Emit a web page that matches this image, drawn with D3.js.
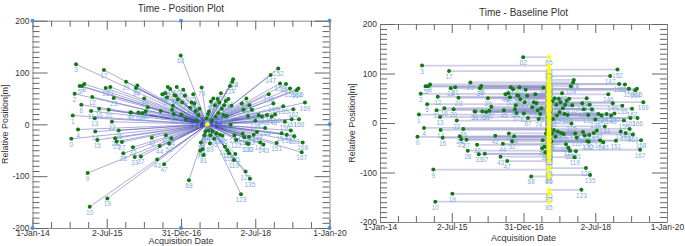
<!DOCTYPE html>
<html>
<head>
<meta charset="utf-8">
<script src="https://cdn.jsdelivr.net/npm/d3@7"></script>
<style>
  body { margin: 0; background: #fff; }
  svg { display: block; font-family: "Liberation Sans", Arial, sans-serif; }
  .ttl { font-size: 10px; fill: #333; }
  .axt { font-size: 9px; fill: #333; }
  .tick text { font-size: 8.5px; fill: #333; }
  .lbl { font-size: 6.5px; fill: #86acdf; }
</style>
</head>
<body>
<div id="chart"></div>
<script>
// acquisition day offsets (days after 1-Jan-14) and relative positions [m]
var acqDays = [286, 297, 311, 321, 336, 348, 360, 365, 382, 407,
    422, 432, 441, 459, 463, 478, 491, 527, 540, 552,
    562, 574, 586, 599, 609, 621, 636, 660, 670, 690,
    722, 727, 741, 754, 763, 773, 781, 800, 810, 824,
    835, 850, 880, 920, 938, 946, 958, 971, 978, 984,
    992, 998, 1008, 1016, 1024, 1030, 1036, 1042, 1048, 1056,
    1064, 1072, 1093, 1098, 1104, 1112, 1124, 1130, 1154, 1162,
    1174, 1186, 1194, 1204, 1211, 1223, 1232, 1238, 1242, 1248,
    1254, 1262, 1268, 1275, 1284, 1290, 1295, 1298, 1302, 1309,
    1312, 1316, 1322, 1328, 1334, 1340, 1346, 1351, 1358, 1366,
    1371, 1378, 1383, 1390, 1396, 1402, 1408, 1414, 1420, 1426,
    1432, 1438, 1445, 1450, 1457, 1462, 1468, 1474, 1480, 1486,
    1490, 1496, 1502, 1538, 1544, 1550, 1556, 1562, 1572, 1578,
    1584, 1590, 1594, 1598, 1600, 1604, 1618, 1632, 1644, 1656,
    1668, 1680, 1692, 1704, 1716, 1730, 1743, 1757, 1765, 1777,
    1790, 1801, 1813, 1826, 1838, 1850, 1862, 1870, 1876, 1900,
    1906, 1912, 1924, 1930, 1949, 1961, 1966, 1986, 1993, 2010];

var relPos = [-28, 17, 59, 116, -10, 74, 38, 74, 78, -94,
    -159, 26, 53, 12, -14, -30, 30, 105, 70, -143,
    28, 72, 5, 51, -27, -33, -12, -34, -56, 82,
    23, 23, -44, -63, 70, 75, 23, -62, 22, 50,
    25, 33, -26, -68, -42, 26, 58, -77, 60, -21,
    52, 72, -37, 68, -27, 28, 36, 20, 56, 55,
    72, 48, 133, 19, 42, 67, 55, 10, -108, 32,
    42, 58, 40, 26, 8, 18, 30, -51, -35, 71,
    -48, -59, -21, -14, 12, 0, 20, -12, 25, -37,
    -21, 44, 8, -14, 50, -28, 37, 15, -17, 49,
    22, 42, -20, 60, 30, -22, 18, 37, -43, 45,
    16, -50, 49, -56, 74, -1, 36, 82, 87, -69,
    -21, -57, -30, -135, 40, -18, 28, -25, -91, 50,
    -37, 16, -38, -24, 37, -105, 28, -20, 7, -15,
    18, -35, 15, -39, -7, 18, 58, 95, 15, 40,
    19, -36, 108, 79, -17, 35, 5, 78, -20, 69,
    -12, 10, 29, -23, 66, 69, 10, -54, -35, 42];

var masterIndex = 85;
var xTickLabels = ["1-Jan-14", "2-Jul-15", "31-Dec-16", "2-Jul-18", "1-Jan-20"];
var yTicks = [-200, -100, 0, 100, 200];

var W = 685, H = 246;
var t0 = new Date(Date.UTC(2014, 0, 1)), t1 = new Date(Date.UTC(2020, 0, 1));

var pts = acqDays.map(function (d, i) {
    return { i: i, date: d3.utcDay.offset(t0, d), v: relPos[i] };
});
var master = pts[masterIndex];
var others = pts.filter(function (d) { return d.i !== masterIndex; });

var svg = d3.select("#chart").append("svg")
    .attr("width", W).attr("height", H);

function drawFrame(g, x, y, p, dots) {
    // 16 equal time steps between the end dates, every 4th labelled
    var xt = d3.range(17).map(function (k) {
        return new Date(+t0 + (t1 - t0) * k / 16);
    });
    var yt = d3.range(-200, 201, 10);

    var bottom = g.append("g").attr("transform", "translate(0," + p.y1 + ")")
        .call(d3.axisBottom(x).tickValues(xt).tickSizeInner(-6).tickSizeOuter(0).tickPadding(3)
            .tickFormat(function (d, k) { return k % 4 === 0 ? xTickLabels[k / 4] : ""; }));
    var top = g.append("g").attr("transform", "translate(0," + p.y0 + ")")
        .call(d3.axisTop(x).tickValues(xt).tickSizeInner(-6).tickSizeOuter(0).tickFormat(""));
    var left = g.append("g").attr("transform", "translate(" + p.x0 + ",0)")
        .call(d3.axisLeft(y).tickValues(yt).tickSizeInner(-7).tickSizeOuter(0).tickPadding(3)
            .tickFormat(function (d) { return yTicks.indexOf(d) >= 0 ? d : ""; }));
    var right = g.append("g").attr("transform", "translate(" + p.x1 + ",0)")
        .call(d3.axisRight(y).tickValues(yt).tickSizeInner(-7).tickSizeOuter(0).tickFormat(""));

    [bottom, top].forEach(function (a) {
        a.selectAll(".tick line").filter(function (d, k) { return k % 4 === 0; })
            .attr("y2", a === bottom ? -9 : 9);
    });
    left.selectAll(".tick line").filter(function (d) { return d % 100 === 0; }).attr("x2", 15);
    right.selectAll(".tick line").filter(function (d) { return d % 100 === 0; }).attr("x2", -15);

    [bottom, top, left, right].forEach(function (a) {
        a.select(".domain").attr("stroke", "#8a8a8a");
        a.selectAll(".tick line").attr("stroke", "#666");
    });
    bottom.selectAll(".tick text").attr("dy", "0.6em");

    if (dots) {
        var xm = x(new Date(+t0 + (t1 - t0) / 2));
        var corners = [[p.x0, p.y0], [xm, p.y0], [p.x1, p.y0], [p.x0, p.y1], [xm, p.y1],
            [p.x1, p.y1], [p.x1, y(0)]];
        g.selectAll(".cdot").data(corners).join("circle").attr("class", "cdot")
            .attr("cx", function (d) { return d[0]; }).attr("cy", function (d) { return d[1]; })
            .attr("r", 2).attr("fill", "#4a90e0");
    }

    g.append("text").attr("class", "ttl").attr("text-anchor", "middle")
        .attr("x", (p.x0 + p.x1) / 2).attr("y", p.ty).text(p.title);
    g.append("text").attr("class", "axt").attr("text-anchor", "middle")
        .attr("x", (p.x0 + p.x1) / 2).attr("y", p.xly).text("Acquisition Date");
    g.append("text").attr("class", "axt").attr("text-anchor", "middle")
        .attr("transform", "translate(" + p.ylx + "," + (p.y0 + p.y1) / 2 + ") rotate(-90)")
        .attr("font-size", "8.5px").text("Relative Position[m]");
}

// ---- Time - Position Plot
var p1 = { x0: 32.5, x1: 329.5, y0: 20.7, y1: 228, ty: 12, xly: 244, ylx: 8, title: "Time - Position Plot" };
var x1 = d3.scaleUtc().domain([t0, t1]).range([p1.x0, p1.x1]);
var y1 = d3.scaleLinear().domain([-200, 200]).range([p1.y1, p1.y0]);
var g1 = svg.append("g");

g1.append("g").selectAll("line").data(others).join("line")
    .attr("x1", function (d) { return x1(d.date); }).attr("y1", function (d) { return y1(d.v); })
    .attr("x2", x1(master.date)).attr("y2", y1(master.v))
    .attr("stroke", "#3a3aaa").attr("stroke-opacity", 0.5).attr("stroke-width", 0.85);

g1.append("g").selectAll("text").data(pts).join("text").attr("class", "lbl")
    .attr("text-anchor", "middle")
    .attr("x", function (d) { return x1(d.date); }).attr("y", function (d) { return y1(d.v) + 8; })
    .text(function (d) { return d.i; });

g1.append("g").selectAll("circle").data(others).join("circle")
    .attr("cx", function (d) { return x1(d.date); }).attr("cy", function (d) { return y1(d.v); })
    .attr("r", 2).attr("fill", "#127a12");

g1.append("circle").attr("cx", x1(master.date)).attr("cy", y1(master.v))
    .attr("r", 2.3).attr("fill", "#ffff00");

drawFrame(g1, x1, y1, p1, true);

// ---- Time - Baseline Plot
var p2 = { x0: 380, x1: 667, y0: 24, y1: 222, ty: 16, xly: 241, ylx: 355, title: "Time - Baseline Plot" };
var x2 = d3.scaleUtc().domain([t0, t1]).range([p2.x0, p2.x1]);
var y2 = d3.scaleLinear().domain([-200, 200]).range([p2.y1, p2.y0]);
var g2 = svg.append("g");

g2.append("g").selectAll("line").data(others).join("line")
    .attr("x1", function (d) { return x2(d.date); }).attr("y1", function (d) { return y2(d.v); })
    .attr("x2", x2(master.date)).attr("y2", function (d) { return y2(d.v); })
    .attr("stroke", "#8484c0").attr("stroke-opacity", 0.4).attr("stroke-width", 1.8);

g2.append("g").selectAll("text").data(others).join("text").attr("class", "lbl")
    .attr("text-anchor", "middle")
    .attr("x", function (d) { return x2(d.date); }).attr("y", function (d) { return y2(d.v) + 8; })
    .text(function (d) { return d.i; });

// master date is labelled under every baseline end
g2.append("g").selectAll("text").data(others).join("text").attr("class", "lbl")
    .attr("text-anchor", "middle")
    .attr("x", x2(master.date)).attr("y", function (d) { return y2(d.v) + 8; })
    .text(masterIndex);

g2.append("g").selectAll("circle").data(others).join("circle")
    .attr("cx", function (d) { return x2(d.date); }).attr("cy", function (d) { return y2(d.v); })
    .attr("r", 2).attr("fill", "#127a12");

g2.append("g").selectAll("circle").data(others).join("circle")
    .attr("cx", x2(master.date)).attr("cy", function (d) { return y2(d.v); })
    .attr("r", 2.2).attr("fill", "#ffff00");

drawFrame(g2, x2, y2, p2, false);
</script>
</body>
</html>
